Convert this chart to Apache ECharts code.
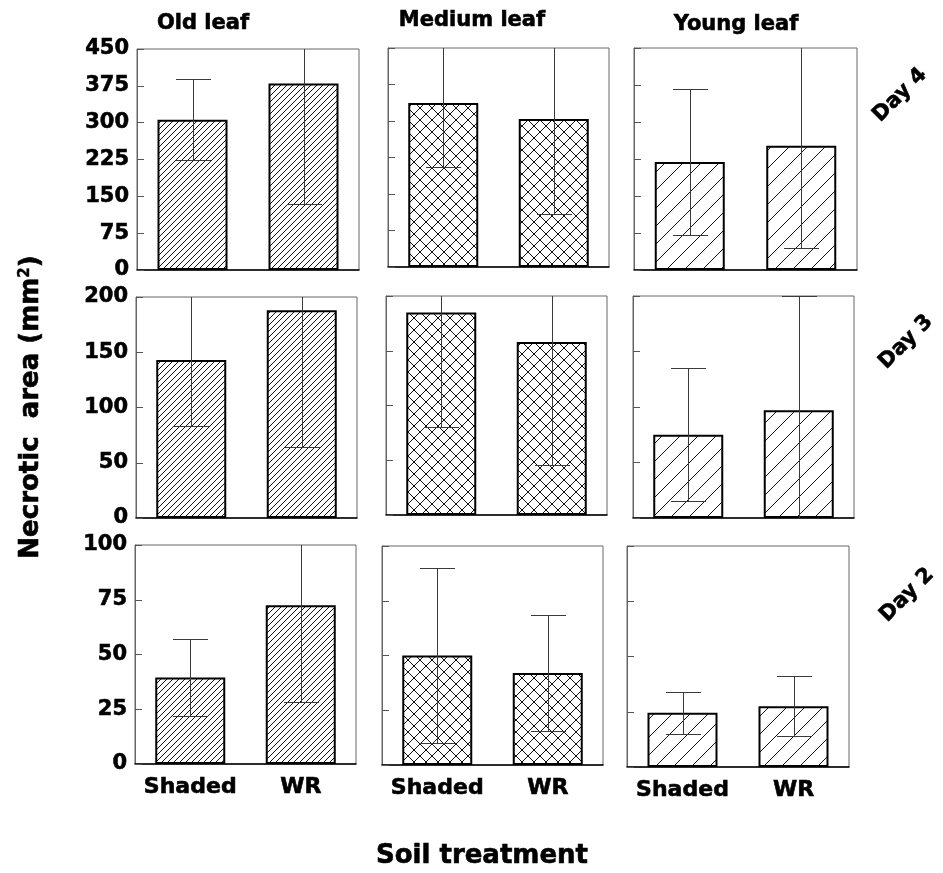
<!DOCTYPE html>
<html>
<head>
<meta charset="utf-8">
<title>Necrotic area by leaf age and soil treatment</title>
<script src="https://cdn.jsdelivr.net/npm/echarts@6/dist/echarts.min.js"></script>
<style>
  html, body { margin: 0; padding: 0; background: #fff; }
  #chart { width: 943px; height: 873px; }
</style>
</head>
<body>
<div id="chart"></div>
<script>
// Treatments on the x axis of every panel
const categories = ['Shaded', 'WR'];
// Panel columns and rows
const leafTypes = ['Old leaf', 'Medium leaf', 'Young leaf'];
const days = ['Day 4', 'Day 3', 'Day 2'];
// Y axis range and tick step for each row
const yMax = [450, 200, 100];
const yStep = [75, 50, 25];

// Mean necrotic area (mm²), [Shaded, WR], one pair per leaf type
const day4Mean = [[306, 380], [337, 304], [219, 252]];
const day4Sd   = [[83, 245], [132, 195], [148, 208]];
const day3Mean = [[143, 188], [185, 158], [75, 97]];
const day3Sd   = [[60, 124], [105, 112], [60, 103]];
const day2Mean = [[39.5, 72.5], [50, 42], [24.5, 27.5]];
const day2Sd   = [[17.5, 44.3], [40, 26.5], [9.6, 13.5]];

const means = [day4Mean, day3Mean, day2Mean];
const sds = [day4Sd, day3Sd, day2Sd];

const FONT = 'DejaVu Sans';
const INK = '#000';

// Hatch fills: dense diagonal, cross-hatch, sparse diagonal
function hatch(period, cross) {
  const c = document.createElement('canvas');
  c.width = period; c.height = period;
  const g = c.getContext('2d');
  g.fillStyle = '#fff';
  g.fillRect(0, 0, period, period);
  g.strokeStyle = '#111';
  g.lineWidth = 1;
  g.beginPath();
  for (let k = -1; k <= 1; k++) {
    g.moveTo(k * period, period);
    g.lineTo(k * period + period, 0);
    if (cross) {
      g.moveTo(k * period, 0);
      g.lineTo(k * period + period, period);
    }
  }
  g.stroke();
  return { image: c, repeat: 'repeat' };
}
const fills = [hatch(6, false), hatch(12, true), hatch(18, false)];

// Plot rectangles [left, top, width, height] per row/column
const rects = [
  [[137, 49, 222, 221], [388, 48, 221, 219], [634, 48, 223, 222]],
  [[136, 297, 221, 221], [386, 296, 221, 219], [633, 296, 221, 222]],
  [[135, 545, 221, 219], [382, 546, 221, 219], [627, 546, 222, 221]]
];

const grids = [], xAxes = [], yAxes = [], series = [];

function errorItem(params, api) {
  const x = api.value(0), m = api.value(1), s = api.value(2);
  const top = api.coord([x, m + s]);
  const bot = api.coord([x, m - s]);
  const cx = Math.round(top[0]) + 0.5;
  const yt = Math.round(top[1]) + 0.5;
  const yb = Math.round(bot[1]) + 0.5;
  const half = 17.5;
  const st = { stroke: '#3a3a3a', lineWidth: 1 };
  return {
    type: 'group',
    children: [
      { type: 'line', shape: { x1: cx, y1: yt, x2: cx, y2: yb }, style: st },
      { type: 'line', shape: { x1: cx - half, y1: yt, x2: cx + half, y2: yt }, style: st },
      { type: 'line', shape: { x1: cx - half, y1: yb, x2: cx + half, y2: yb }, style: st }
    ]
  };
}

const labelInk = { color: INK, textBorderColor: INK, textBorderWidth: 0.6, fontWeight: 'bold', fontFamily: FONT };

for (let r = 0; r < 3; r++) {
  for (let c = 0; c < 3; c++) {
    const i = r * 3 + c;
    const [l, t, w, h] = rects[r][c];
    grids.push({
      left: l, top: t, width: w, height: h,
      show: true, borderColor: '#666', borderWidth: 1, backgroundColor: 'transparent'
    });
    xAxes.push({
      type: 'category', gridIndex: i, data: categories,
      axisTick: { show: false },
      axisLine: { lineStyle: { color: '#000', width: 1.5 } },
      axisLabel: Object.assign({ show: r === 2, interval: 0, fontSize: 22, margin: 12 }, labelInk)
    });
    yAxes.push({
      type: 'value', gridIndex: i, min: 0, max: yMax[r], interval: yStep[r],
      splitLine: { show: false },
      axisLine: { show: true, lineStyle: { color: '#666', width: 1 } },
      axisTick: { show: true, inside: true, length: 7, lineStyle: { color: '#555' } },
      axisLabel: Object.assign({ show: c === 0, fontSize: 21, margin: 8 }, labelInk)
    });
    series.push({
      type: 'bar', xAxisIndex: i, yAxisIndex: i,
      data: means[r][c],
      barWidth: 70,
      itemStyle: { color: fills[c], borderColor: '#000', borderWidth: 2 },
      emphasis: { disabled: true },
      z: 2
    });
    series.push({
      type: 'custom', xAxisIndex: i, yAxisIndex: i,
      data: means[r][c].map((m, k) => [k, m, sds[r][c][k]]),
      encode: { x: 0, y: 1 },
      renderItem: errorItem,
      clip: true,
      z: 3
    });
  }
}

const textStyle = (size) => ({
  fontFamily: FONT, fontWeight: 'bold', fontSize: size, fill: INK,
  stroke: INK, lineWidth: 0.6
});

const graphics = [];
const titlePos = [[203, 24], [472, 21], [736, 25]];
leafTypes.forEach((name, c) => {
  graphics.push({
    type: 'text', x: titlePos[c][0], y: titlePos[c][1],
    style: Object.assign({ text: name, align: 'center', verticalAlign: 'middle' }, textStyle(21))
  });
});
const dayPos = [[900, 95], [906, 342], [907, 595]];
days.forEach((name, r) => {
  graphics.push({
    type: 'text', x: dayPos[r][0], y: dayPos[r][1], rotation: Math.PI / 4,
    style: Object.assign({ text: name, align: 'center', verticalAlign: 'middle' }, textStyle(21))
  });
});
graphics.push({
  type: 'text', x: 31, y: 407, rotation: Math.PI / 2,
  style: Object.assign({
    text: 'Necrotic  area (mm{sup|2})', align: 'center', verticalAlign: 'middle',
    rich: {
      sup: {
        fontFamily: FONT, fontWeight: 'bold', fontSize: 15, fill: INK,
        stroke: INK, lineWidth: 0.4, verticalAlign: 'top', padding: [0, 0, 10, 0]
      }
    }
  }, textStyle(26))
});
graphics.push({
  type: 'text', x: 482, y: 856,
  style: Object.assign({ text: 'Soil treatment', align: 'center', verticalAlign: 'middle' }, textStyle(26))
});

const chart = echarts.init(document.getElementById('chart'), null, { renderer: 'canvas' });
chart.setOption({
  animation: false,
  backgroundColor: '#fff',
  grid: grids,
  xAxis: xAxes,
  yAxis: yAxes,
  series: series,
  graphic: graphics
});
</script>
</body>
</html>
